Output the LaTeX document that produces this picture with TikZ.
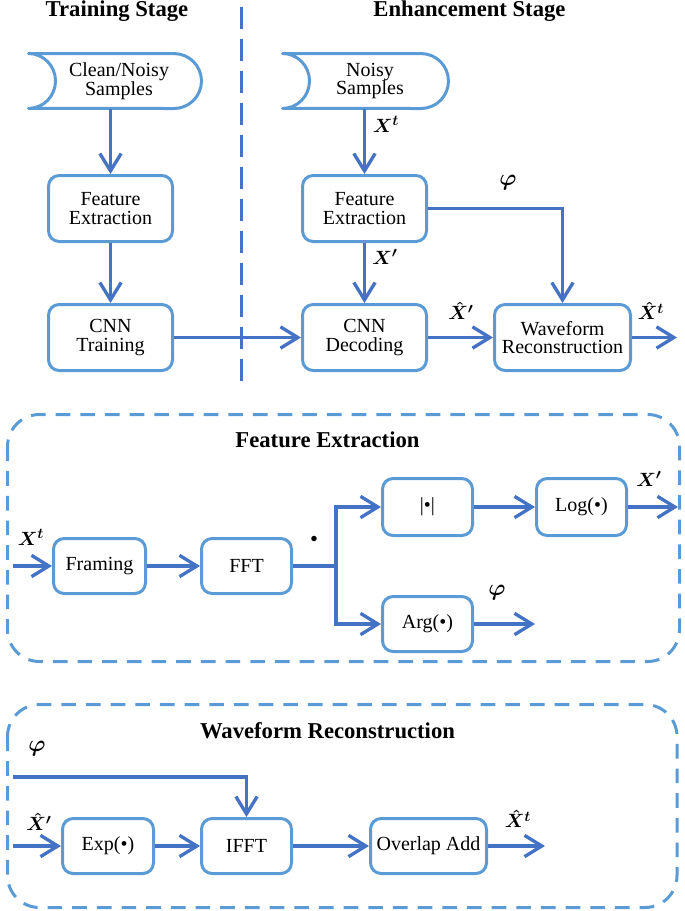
\documentclass[tikz,border=0pt]{standalone}
\usepackage{fontspec}
\setmainfont{Liberation Serif}
\usepackage{amsmath}
\usepackage{tikz}
\usetikzlibrary{arrows.meta,calc}
\definecolor{boxblue}{RGB}{91,155,213}
\definecolor{lineblue}{RGB}{68,114,196}
\newcommand{\px}{0.75pt}
\tikzstyle{block}=[draw=boxblue,line width=2.25pt,rounded corners=8pt,align=center,inner sep=1pt,font=\fontsize{15}{14}\selectfont]
\tikzstyle{sample}=[align=center,inner sep=1pt,minimum height=41.25pt,font=\fontsize{15}{14}\selectfont]
\tikzstyle{shapeline}=[draw=boxblue,line width=2.25pt,line join=round]
\tikzstyle{flow}=[draw=lineblue,line width=2.5pt,-{Straight Barb[length=13pt,width=16pt]}]
\tikzstyle{sig}=[font=\fontsize{15}{15}\selectfont\boldmath,inner sep=0pt]
\tikzstyle{phisig}=[font=\fontsize{19}{19}\selectfont\boldmath,inner sep=0pt]
\tikzstyle{stage}=[font=\fontsize{17}{17}\selectfont\bfseries,anchor=base,inner sep=0pt]
\tikzstyle{groupframe}=[draw=boxblue,line width=2.25pt,dash pattern=on 11pt off 7.5pt,rounded corners=24pt]
% outline of a samples node: #1 node, #2 left offset, #3 right offset (px)
\newcommand{\samplesshape}[3]{%
    \draw[shapeline] ($(#1)+(#2,-27.5)$) arc[start angle=90,end angle=-90,x radius=20.25pt,y radius=20.6pt]
        -- ($(#1)+(#3-27.5,27.5)$) arc[start angle=-90,end angle=90,radius=20.6pt] -- cycle;}

\begin{document}
\begin{tikzpicture}[x=\px,y=-\px]
    \useasboundingbox (0,0) rectangle (685,911);
    \node[stage] (trainT) at (117,16.5) {Training Stage};
    \node[stage] (enhT) at (469.5,16) {Enhancement Stage};
    \draw[draw=lineblue,line width=2.25pt,dash pattern=on 16.5pt off 7.5pt] (241,7) -- (241,390);
    % training stage
    \node[sample] (cleanS) at (119,81) {Clean/Noisy\\Samples};
    \samplesshape{cleanS}{-90.5}{82.5}
    \node[block,minimum width=93pt,minimum height=49.5pt] (feT) at (110.5,208.5) {Feature\\Extraction};
    \node[block,minimum width=93pt,minimum height=49.5pt] (cnnT) at (110.5,337.5) {CNN\\Training};
    \draw[flow] (cleanS.south -| feT.north) -- (feT.north);
    \draw[flow] (feT) -- (cnnT);
    % enhancement stage
    \node[sample] (noisyS) at (370,81) {Noisy\\Samples};
    \samplesshape{noisyS}{-87.5}{78.5}
    \node[block,minimum width=93pt,minimum height=49.5pt] (feE) at (364.5,208.5) {Feature\\Extraction};
    \node[block,minimum width=93pt,minimum height=49.5pt] (cnnD) at (364.5,337.5) {CNN\\Decoding};
    \node[block,minimum width=102pt,minimum height=49.5pt] (wave) at (562.5,337.5) {Waveform\\Reconstruction};
    \coordinate (waveOut) at (677,337.5);
    \draw[flow] (noisyS.south -| feE.north) -- (feE.north);
    \draw[flow] (feE) -- (cnnD);
    \draw[flow] (feE) -| (wave);
    \draw[flow] (cnnT) -- (cnnD);
    \draw[flow] (cnnD) -- (wave);
    \draw[flow] (wave) -- (waveOut);
    \node[sig] (sXt) at (386,124) {$X^t$};
    \node[phisig] (sPhi) at (508,183) {$\varphi$};
    \node[sig] (sXp) at (385,257) {$X^{\prime}$};
    \node[sig] (sXhp) at (461,311) {$\hat{X}^{\prime}$};
    \node[sig] (sXht) at (651,311) {$\hat{X}^t$};
    % feature extraction
    \draw[groupframe] (7.5,414.5) rectangle (679.5,661.5);
    \node[stage] (feTitle) at (327.5,447) {Feature Extraction};
    \node[block,minimum width=69pt,minimum height=41.25pt] (fram) at (99.5,566) {Framing};
    \node[block,minimum width=67.5pt,minimum height=41.25pt] (fft) at (246.5,566) {FFT};
    \node[block,minimum width=67.5pt,minimum height=42.75pt] (absv) at (427.5,507) {|•|};
    \node[block,minimum width=67.5pt,minimum height=42.75pt] (logv) at (581.5,507) {Log(•)};
    \node[block,minimum width=67.5pt,minimum height=41.25pt] (argv) at (427.5,624) {Arg(•)};
    \coordinate (feIn) at (13,566);
    \coordinate (split) at (336,566);
    \coordinate (logOut) at (678,507);
    \coordinate (argOut) at (535,624);
    \draw[flow] (feIn) -- (fram);
    \draw[flow] (fram) -- (fft);
    \draw[flow] (fft) -- (split) |- (absv);
    \draw[flow] (split) |- (argv);
    \draw[flow] (absv) -- (logv);
    \draw[flow] (logv) -- (logOut);
    \draw[flow] (argv) -- (argOut);
    \node[sig] (fXt) at (31,537) {$X^t$};
    \node[font=\fontsize{17}{17}\selectfont,inner sep=0pt] (fDot) at (314,541) {•};
    \node[sig] (fXp) at (649,479) {$X^{\prime}$};
    \node[phisig] (fPhi) at (497,593) {$\varphi$};
    % waveform reconstruction
    \draw[groupframe] (7.5,704.5) rectangle (677,907.5);
    \node[stage] (wrTitle) at (327.5,738) {Waveform Reconstruction};
    \node[block,minimum width=68.25pt,minimum height=41.25pt] (expv) at (108,846) {Exp(•)};
    \node[block,minimum width=67.5pt,minimum height=41.25pt] (ifft) at (246.5,846) {IFFT};
    \node[block,minimum width=87pt,minimum height=41.25pt] (ola) at (428.5,846) {Overlap Add};
    \coordinate (phiIn) at (13,777);
    \coordinate (wrIn) at (13,846);
    \coordinate (olaOut) at (545,846);
    \draw[flow] (phiIn) -| (ifft);
    \draw[flow] (wrIn) -- (expv);
    \draw[flow] (expv) -- (ifft);
    \draw[flow] (ifft) -- (ola);
    \draw[flow] (ola) -- (olaOut);
    \node[phisig] (wPhi) at (37,749) {$\varphi$};
    \node[sig] (wXhp) at (39,822) {$\hat{X}^{\prime}$};
    \node[sig] (wXht) at (518,819) {$\hat{X}^t$};
\end{tikzpicture}
\end{document}
